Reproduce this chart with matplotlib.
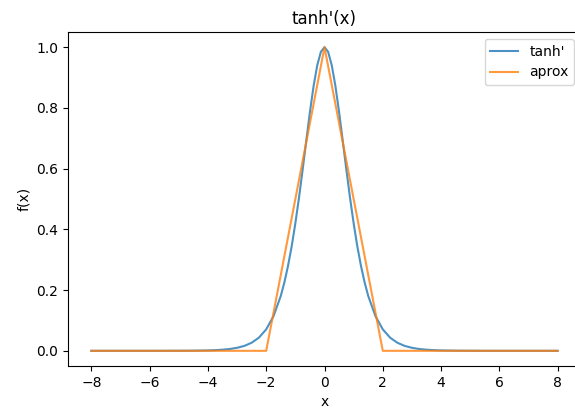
import numpy as np
import matplotlib
matplotlib.use("Agg")
import matplotlib.pyplot as plt

# tanh'(x), right half (curve is symmetric about x=0)
x_half = [0, 0.125, 0.25, 0.375, 0.5, 0.625, 0.75, 0.875, 1.0, 1.125, 1.25, 1.375,
          1.5, 1.75, 2.0, 2.25, 2.5, 2.75, 3.0, 3.25, 3.5, 3.75, 4.0, 4.5, 5.0,
          6.0, 7.0, 8.0]
dtanh_half = [1.0, 0.9845, 0.9400, 0.8716, 0.7864, 0.6922, 0.5966, 0.5044, 0.4200,
              0.3447, 0.2804, 0.2259, 0.1807, 0.1138, 0.0707, 0.0434, 0.0266,
              0.0162, 0.0099, 0.0060, 0.0037, 0.0022, 0.0013, 0.0005, 0.0002,
              0.0, 0.0, 0.0]

# piecewise-linear approximation (corner points)
approx_x = [-8, -2, 0, 2, 8]
approx_y = [0, 0, 1, 0, 0]

x_full = np.concatenate([-np.array(x_half[:0:-1]), np.array(x_half)])
y_full = np.concatenate([np.array(dtanh_half[:0:-1]), np.array(dtanh_half)])

fig = plt.figure(figsize=(5.75, 4.12), dpi=100)
ax = fig.add_axes([68/575, 46/412, 513/575, 334/412])
ax.plot(x_full, y_full, label="tanh'", alpha=0.8)
ax.plot(approx_x, approx_y, label="aprox", alpha=0.8)
ax.set_title("tanh'(x)")
ax.set_xlabel("x")
ax.set_ylabel("f(x)")
ax.set_xticks([-8, -6, -4, -2, 0, 2, 4, 6, 8])
ax.legend(loc="upper right")
fig.savefig("out.png", dpi=100)
